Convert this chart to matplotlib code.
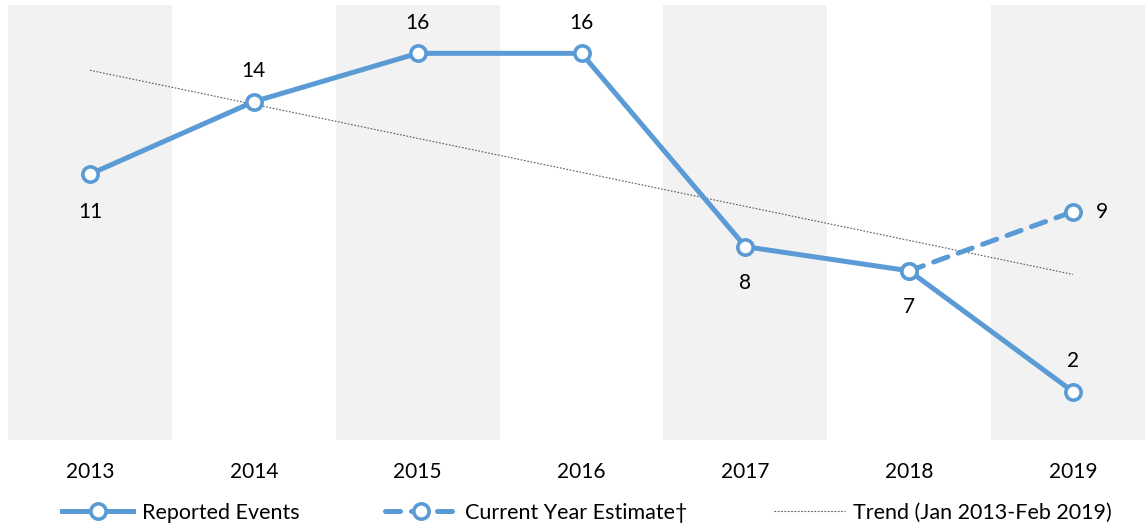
import matplotlib
matplotlib.use('Agg')
import matplotlib.pyplot as plt

# data
years = ['2013', '2014', '2015', '2016', '2017', '2018', '2019']
reported = [11, 14, 16, 16, 8, 7, 2]
est_years = ['2018', '2019']
estimate = [7, 9.45]
trend_years = ['2013', '2019']
trend = [15.3, 6.85]

blue = '#5B9BD5'
plt.rcParams['font.family'] = ['Lato', 'DejaVu Sans']

fig = plt.figure(figsize=(11.45, 5.27), dpi=100)
ax = fig.add_axes([8/1145, 87/527, 1147/1145, 435/527])

x = list(range(len(years)))
xi = {y: i for i, y in enumerate(years)}

# alternating grey bands
for i in x:
    if i % 2 == 0:
        ax.axvspan(i - 0.5, i + 0.5, color='#F2F2F2', zorder=0, lw=0)

ax.plot([xi[y] for y in trend_years], trend, color='#595959', lw=0.8,
        ls=(0, (1.5, 1.5)), zorder=2, label='Trend (Jan 2013-Feb 2019)')
ax.plot([xi[y] for y in est_years], estimate, color=blue, lw=3.6,
        ls=(0, (3, 2.2)), dash_capstyle='round', marker='o', ms=11,
        mfc='white', mec=blue, mew=2.6, zorder=3, label='Current Year Estimate\u2020')
ax.plot(x, reported, color=blue, lw=3.6, marker='o', ms=11,
        mfc='white', mec=blue, mew=2.6, zorder=4, label='Reported Events')

# data labels
offsets = {0: -27, 1: 22, 2: 22, 3: 22, 4: -26, 5: -26, 6: 22}
for i, v in enumerate(reported):
    ax.annotate(str(v), (i, v), xytext=(0, offsets[i]), textcoords='offset points',
                ha='center', va='center', fontsize=15)
ax.annotate(f'{estimate[-1]:.0f}', (xi[est_years[-1]], estimate[-1]), xytext=(21, 0),
            textcoords='offset points', ha='center', va='center', fontsize=15)

ax.set_xlim(-0.5, 6.5)
ax.set_ylim(0, 18)
ax.set_xticks(x)
ax.set_xticklabels(years, fontsize=15)
ax.tick_params(axis='x', length=0, pad=16)
ax.set_yticks([])
for s in ax.spines.values():
    s.set_visible(False)

h, l = ax.get_legend_handles_labels()
order = [2, 1, 0]
fig.legend([h[k] for k in order], [l[k] for k in order], loc='center',
           bbox_to_anchor=(587/1145, 14/527), ncol=3, frameon=False, fontsize=15.5,
           handlelength=3.3, handletextpad=0.4, columnspacing=4.0)

fig.savefig('out.png', dpi=100)
